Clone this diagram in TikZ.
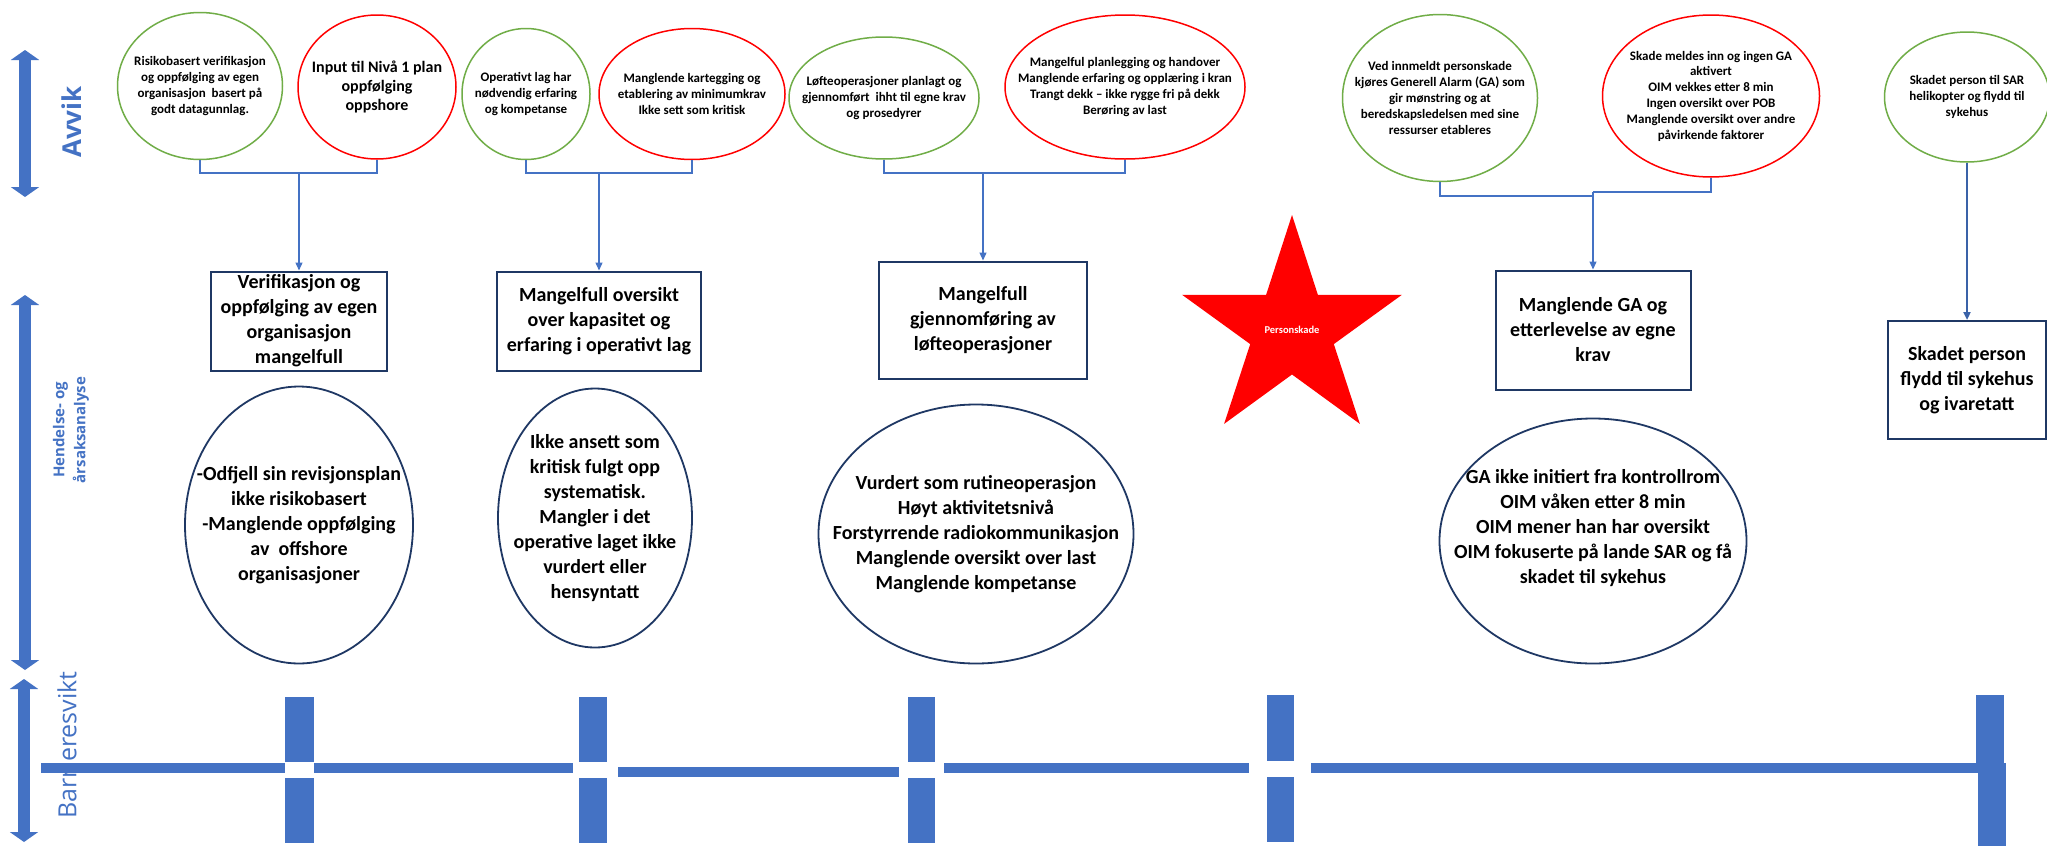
\documentclass[tikz,border=0pt]{standalone}
\usepackage{fontspec}
\setmainfont{Carlito}
\newfontfamily\labfont{Open Sans}
\usetikzlibrary{arrows.meta,shapes.geometric}
\definecolor{ublue}{HTML}{4472C4}
\definecolor{ugreen}{HTML}{70AD47}
\definecolor{ured}{HTML}{FF0000}
\definecolor{dnavy}{HTML}{1F3864}
\definecolor{cblue}{HTML}{3A62A8}
\begin{document}
\begin{tikzpicture}[x=1pt,y=-1pt,
  ell/.style={ellipse, line width=1.5pt, inner sep=0pt},
  gell/.style={ell, draw=ugreen},
  rell/.style={ell, draw=ured},
  ttext/.style={align=center, inner sep=0pt, font=\bfseries\fontsize{13}{15.8}\selectfont},
  cbox/.style={draw=dnavy, line width=2pt, align=center, inner sep=0pt, font=\bfseries\fontsize{20}{25}\selectfont},
  bell/.style={ellipse, draw=dnavy, line width=1.8pt, inner sep=0pt},
  btext/.style={align=center, inner sep=0pt, font=\bfseries\fontsize{20}{25}\selectfont},
  conn/.style={draw=ublue, line width=1.3pt},
  conndark/.style={draw=cblue, line width=2pt},
  tipend/.style={-{Triangle[length=8pt,width=7pt]}},
  barfill/.style={fill=ublue, draw=none},
  bigarrow/.style={ublue, line width=12pt, {Triangle[width=28pt,length=10pt]}-{Triangle[width=28pt,length=10pt]}},
]
\useasboundingbox (0,0) rectangle (2047,846);
\fill[white] (0,0) rectangle (2047,846);

% ---------- left axis arrows and labels ----------
\coordinate (aA1) at (25,50);  \coordinate (aA2) at (25,197);
\coordinate (aH1) at (25,295); \coordinate (aH2) at (25,670);
\coordinate (aB1) at (24,679); \coordinate (aB2) at (24,842);
\draw[bigarrow] (aA1) -- (aA2);
\draw[bigarrow] (aH1) -- (aH2);
\draw[bigarrow] (aB1) -- (aB2);
\node[rotate=90, text=ublue, inner sep=0pt, font=\labfont\bfseries\fontsize{26}{30}\selectfont] (lavvik) at (72,122) {Avvik};
\node[rotate=90, text=ublue, inner sep=0pt, align=center, font=\labfont\bfseries\fontsize{15}{21}\selectfont] (lhend) at (71,430) {Hendelse- og\\årsaksanalyse};
\node[rotate=90, text=ublue, inner sep=0pt, font=\labfont\fontsize{25}{30}\selectfont] (lbar) at (67,745) {Barrieresvikt};

% ---------- top ellipses ----------
\node[gell, minimum width=165pt, minimum height=147pt] (e1) at (200,86) {};
\node[ttext] (e1t) at (e1) {Risikobasert verifikasjon\\og oppfølging av egen\\organisasjon\ \ basert på\\godt datagunnlag.};
\node[rell, minimum width=158pt, minimum height=144pt] (e2) at (377,87) {};
\node[ttext, font=\bfseries\fontsize{16}{19}\selectfont] (e2t) at (e2) {Input til Nivå 1 plan\\oppfølging\\oppshore};
\node[gell, minimum width=128pt, minimum height=131pt] (e3) at (526,94) {};
\node[ttext] (e3t) at (e3) {Operativt lag har\\nødvendig erfaring\\og kompetanse};
\node[rell, minimum width=186pt, minimum height=131pt] (e4) at (692,94) {};
\node[ttext] (e4t) at (e4) {Manglende kartegging og\\etablering av minimumkrav\\Ikke sett som kritisk};
\node[gell, minimum width=190pt, minimum height=122pt] (e5) at (884,98) {};
\node[ttext] (e5t) at (e5) {Løfteoperasjoner planlagt og\\gjennomført\ \ ihht til egne krav\\og prosedyrer};
\node[rell, minimum width=240pt, minimum height=144pt] (e6) at (1125,87) {};
\node[ttext] (e6t) at (e6) {Mangelful planlegging og handover\\Manglende erfaring og opplæring i kran\\Trangt dekk – ikke rygge fri på dekk\\Berøring av last};
\node[gell, minimum width=195pt, minimum height=167pt] (e7) at (1440,98) {};
\node[ttext] (e7t) at (e7) {Ved innmeldt personskade\\kjøres Generell Alarm (GA) som\\gir mønstring og at\\beredskapsledelsen med sine\\ressurser etableres};
\node[rell, minimum width=217pt, minimum height=162pt] (e8) at (1711,96) {};
\node[ttext] (e8t) at (e8) {Skade meldes inn og ingen GA\\aktivert\\OIM vekkes etter 8 min\\Ingen oversikt over POB\\Manglende oversikt over andre\\påvirkende faktorer};
\node[gell, minimum width=165pt, minimum height=130pt] (e9) at (1967,97) {};
\node[ttext] (e9t) at (e9) {Skadet person til SAR\\helikopter og flydd til\\sykehus};

% ---------- boxes ----------
\node[cbox, minimum width=176pt, minimum height=99pt] (box1) at (299,321) {Verifikasjon og\\oppfølging av egen\\organisasjon\\mangelfull};
\node[cbox, minimum width=204pt, minimum height=99pt] (box2) at (599,321) {Mangelfull oversikt\\over kapasitet og\\erfaring i operativt lag};
\node[cbox, minimum width=208pt, minimum height=117pt] (box3) at (983,320) {Mangelfull\\gjennomføring av\\løfteoperasjoner};
\node[cbox, minimum width=195pt, minimum height=119pt] (box4) at (1593,330) {Manglende GA og\\etterlevelse av egne\\krav};
\node[cbox, minimum width=158pt, minimum height=118pt] (box5) at (1967,380) {Skadet person\\flydd til sykehus\\og ivaretatt};

% ---------- connectors ----------
\coordinate (j1) at (299,173);
\coordinate (j2) at (599,173);
\coordinate (j3) at (983,173);
\coordinate (j4a) at (1593,196);
\coordinate (j4b) at (1593,192);
\draw[conn] (e1.south) |- (j1) -| (e2.south);
\draw[conn,tipend] (j1) -- (box1.north);
\draw[conn] (e3.south) |- (j2) -| (e4.south);
\draw[conn,tipend] (j2) -- (box2.north);
\draw[conn] (e5.south) |- (j3) -| (e6.south);
\draw[conn,tipend] (j3) -- (box3.north);
\draw[conn] (e7.south) |- (j4a);
\draw[conn] (e8.south) |- (j4b);
\draw[conn,tipend] (j4b) -- (box4.north);
\draw[conndark,tipend] (e9.south) -- (box5.north);

% ---------- bottom ellipses ----------
\node[bell, minimum width=228pt, minimum height=277pt] (b1) at (299,525) {};
\node[btext] (b1t) at (b1) {-Odfjell sin revisjonsplan\\ikke risikobasert\\-Manglende oppfølging\\av\ \ offshore\\organisasjoner};
\node[bell, minimum width=194pt, minimum height=259pt] (b2) at (595,518) {};
\node[btext] (b2t) at (b2) {Ikke ansett som\\kritisk fulgt opp\\systematisk.\\Mangler i det\\operative laget ikke\\vurdert eller\\hensyntatt};
\node[bell, minimum width=315pt, minimum height=259pt] (b3) at (976,534) {};
\node[btext] (b3t) at (b3) {Vurdert som rutineoperasjon\\Høyt aktivitetsnivå\\Forstyrrende radiokommunikasjon\\Manglende oversikt over last\\Manglende kompetanse};
\node[bell, minimum width=307pt, minimum height=245pt] (b4) at (1593,541) {};
\node[btext] (b4t) at (1593,528) {GA ikke initiert fra kontrollrom\\OIM våken etter 8 min\\OIM mener han har oversikt\\OIM fokuserte på lande SAR og få\\skadet til sykehus};

% ---------- star ----------
\fill[ured] (1292,215) -- (1317.9,294.9) -- (1401.9,294.8) -- (1333.8,344.1) -- (1359.9,423.9)
  -- (1292,374.5) -- (1224.1,423.9) -- (1250.2,344.1) -- (1182.1,294.8) -- (1266.1,294.9) -- cycle;
\node[text=white, inner sep=0pt, font=\bfseries\fontsize{10.5}{12}\selectfont] (pers) at (1292,330) {Personskade};

% ---------- barrier line ----------
\fill[barfill] (41,763) rectangle (285,773);
\fill[barfill] (285,697) rectangle (314,762);
\fill[barfill] (285,778) rectangle (314,843);
\fill[barfill] (314,763) rectangle (573,773);
\fill[barfill] (579,697) rectangle (607,762);
\fill[barfill] (579,778) rectangle (607,843);
\fill[barfill] (618,767) rectangle (899,777);
\fill[barfill] (908,697) rectangle (935,762);
\fill[barfill] (908,778) rectangle (935,843);
\fill[barfill] (944,763) rectangle (1249,773);
\fill[barfill] (1267,695) rectangle (1294,761);
\fill[barfill] (1267,777) rectangle (1294,842);
\fill[barfill] (1311,763) rectangle (2006,773);
\fill[barfill] (1976,695) rectangle (2004,773);
\fill[barfill] (1978,773) rectangle (2006,846);
\end{tikzpicture}
\end{document}
